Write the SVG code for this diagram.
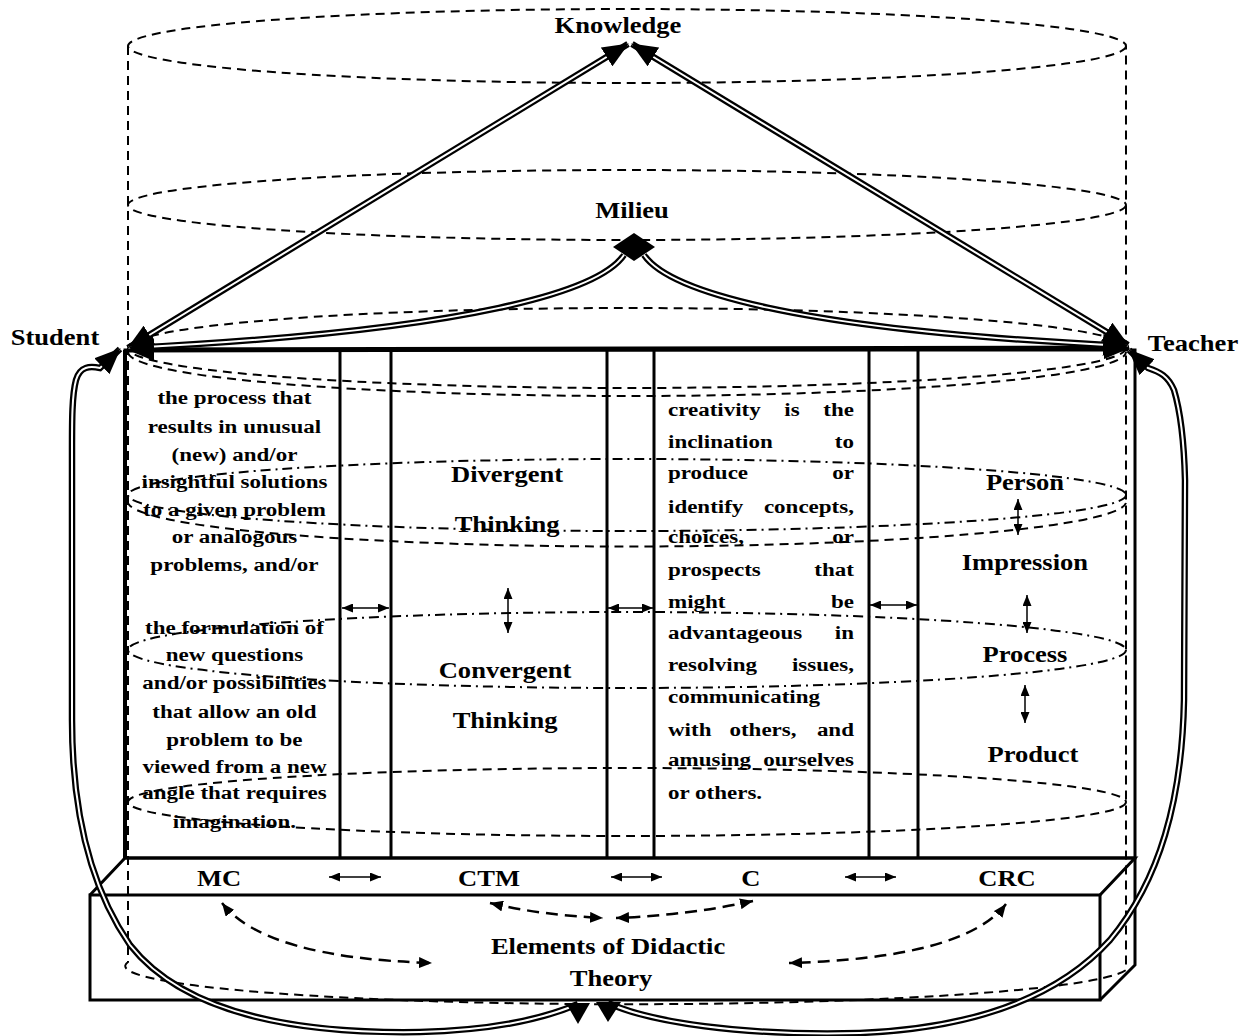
<svg xmlns="http://www.w3.org/2000/svg" width="1254" height="1036" viewBox="0 0 1254 1036">
<style>
.dash{fill:none;stroke:#000;stroke-width:2;stroke-dasharray:9 6}
.dd{fill:none;stroke:#000;stroke-width:2;stroke-dasharray:10 5 2 5}
.solid{fill:none;stroke:#000;stroke-width:3}
.tb{fill:none;stroke:#000;stroke-width:6.5}
.tw{fill:none;stroke:#fff;stroke-width:2}
.thin{fill:none;stroke:#000;stroke-width:1.5}
.darr{fill:none;stroke:#000;stroke-width:2.5;stroke-dasharray:12 7}
text{font-family:"Liberation Serif","Times New Roman",serif;font-weight:bold;fill:#000}
.lbl{font-size:22.5px;text-anchor:middle}
.body{font-size:19.5px}
.mid{text-anchor:middle}
.st{text-anchor:start}
.en{text-anchor:end}
</style>
<defs>
<marker id="big" viewBox="0 0 26 22" refX="25" refY="11" markerWidth="26" markerHeight="22" markerUnits="userSpaceOnUse" orient="auto-start-reverse"><path d="M0,0 L26,11 L0,22 z" fill="#000"/></marker>
<marker id="sm" viewBox="0 0 11 9" refX="11" refY="4.5" markerWidth="11" markerHeight="9" markerUnits="userSpaceOnUse" orient="auto-start-reverse"><path d="M0,0 L11,4.5 L0,9 z" fill="#000"/></marker>
<marker id="dm" viewBox="0 0 13 11" refX="13" refY="5.5" markerWidth="13" markerHeight="11" markerUnits="userSpaceOnUse" orient="auto-start-reverse"><path d="M0,0 L13,5.5 L0,11 z" fill="#000"/></marker>
</defs>

<g id="cylinder">
<ellipse class="dash" cx="627" cy="46" rx="499" ry="37"/>
<ellipse class="dash" cx="627" cy="205" rx="499" ry="35"/>
<ellipse class="dash" cx="627" cy="348" rx="499" ry="40"/>
<path class="dash" d="M128,352 A499,44 0 0 0 1126,352"/>
<ellipse class="dd" cx="627" cy="495" rx="499" ry="36"/>
<path class="dash" d="M128,500 A499,45 0 0 0 1126,503"/>
<ellipse class="dd" cx="627" cy="650" rx="499" ry="38"/>
<ellipse class="dash" cx="627" cy="802" rx="499" ry="34"/>
<path class="dash" d="M128,46 L128,962 A499,38 0 0 0 1126,970 L1126,46"/>
</g>

<g id="frame">
<rect class="solid" x="125" y="350" width="1010" height="508"/>
<line class="solid" x1="125" y1="350" x2="125" y2="858" style="stroke-width:4"/>
<line class="solid" x1="340" y1="350" x2="340" y2="858"/>
<line class="solid" x1="391" y1="350" x2="391" y2="858"/>
<line class="solid" x1="607" y1="350" x2="607" y2="858"/>
<line class="solid" x1="654" y1="350" x2="654" y2="858"/>
<line class="solid" x1="869" y1="350" x2="869" y2="858"/>
<line class="solid" x1="918" y1="350" x2="918" y2="858"/>
</g>

<g id="didactic-box">
<rect class="solid" x="90" y="895" width="1010" height="105"/>
<path class="solid" d="M90,895 L125,858 L1135,858 L1100,895"/>
<path class="solid" d="M1135,858 L1135,965 L1100,1000"/>
<text class="lbl" transform="scale(1.18 1)" x="515.3" y="954">Elements of Didactic</text>
<text class="lbl" transform="scale(1.18 1)" x="517.8" y="986">Theory</text>
</g>

<g id="MC"><text class="lbl" transform="scale(1.18 1)" x="185.6" y="886">MC</text></g>
<g id="CTM"><text class="lbl" transform="scale(1.18 1)" x="414.4" y="886">CTM</text></g>
<g id="C"><text class="lbl" transform="scale(1.18 1)" x="636.4" y="886">C</text></g>
<g id="CRC"><text class="lbl" transform="scale(1.18 1)" x="853.4" y="886">CRC</text></g>

<g id="Knowledge"><text class="lbl" transform="scale(1.18 1)" x="523.7" y="33">Knowledge</text></g>
<g id="Milieu">
<polygon points="613,247 634,233 655,247 634,261" fill="#000"/>
<text class="lbl" transform="scale(1.18 1)" x="535.6" y="218">Milieu</text>
</g>
<g id="Student"><text class="lbl" transform="scale(1.18 1)" x="46.6" y="345">Student</text></g>
<g id="Teacher"><text class="lbl" transform="scale(1.18 1)" x="1011" y="351">Teacher</text></g>

<g id="column-MC">
<text class="body mid" transform="scale(1.18 1)" x="198.7" y="404">the process that</text>
<text class="body mid" transform="scale(1.18 1)" x="198.7" y="433">results in unusual</text>
<text class="body mid" transform="scale(1.18 1)" x="198.7" y="461">(new) and/or</text>
<text class="body mid" transform="scale(1.18 1)" x="198.7" y="488">insightful solutions</text>
<text class="body mid" transform="scale(1.18 1)" x="198.7" y="516">to a given problem</text>
<text class="body mid" transform="scale(1.18 1)" x="198.7" y="543">or analogous</text>
<text class="body mid" transform="scale(1.18 1)" x="198.7" y="571">problems, and/or</text>
<text class="body mid" transform="scale(1.18 1)" x="198.7" y="634">the formulation of</text>
<text class="body mid" transform="scale(1.18 1)" x="198.7" y="661">new questions</text>
<text class="body mid" transform="scale(1.18 1)" x="198.7" y="689">and/or possibilities</text>
<text class="body mid" transform="scale(1.18 1)" x="198.7" y="718">that allow an old</text>
<text class="body mid" transform="scale(1.18 1)" x="198.7" y="746">problem to be</text>
<text class="body mid" transform="scale(1.18 1)" x="198.7" y="773">viewed from a new</text>
<text class="body mid" transform="scale(1.18 1)" x="198.7" y="799">angle that requires</text>
<text class="body mid" transform="scale(1.18 1)" x="198.7" y="828">imagination.</text>
</g>

<g id="column-CTM">
<text class="lbl" transform="scale(1.18 1)" x="429.7" y="482">Divergent</text>
<text class="lbl" transform="scale(1.18 1)" x="429.7" y="532">Thinking</text>
<text class="lbl" transform="scale(1.18 1)" x="428" y="678">Convergent</text>
<text class="lbl" transform="scale(1.18 1)" x="428" y="728">Thinking</text>
</g>

<g id="column-C" transform="scale(1.18 1)">
<text class="body" y="416"><tspan class="st" x="566.1">creativity</tspan><tspan class="mid" x="671.2">is</tspan><tspan class="en" x="723.7">the</tspan></text>
<text class="body" y="448"><tspan class="st" x="566.1">inclination</tspan><tspan class="en" x="723.7">to</tspan></text>
<text class="body" y="479"><tspan class="st" x="566.1">produce</tspan><tspan class="en" x="723.7">or</tspan></text>
<text class="body" y="513"><tspan class="st" x="566.1">identify</tspan><tspan class="en" x="723.7">concepts,</tspan></text>
<text class="body" y="543"><tspan class="st" x="566.1">choices,</tspan><tspan class="en" x="723.7">or</tspan></text>
<text class="body" y="576"><tspan class="st" x="566.1">prospects</tspan><tspan class="en" x="723.7">that</tspan></text>
<text class="body" y="608"><tspan class="st" x="566.1">might</tspan><tspan class="en" x="723.7">be</tspan></text>
<text class="body" y="639"><tspan class="st" x="566.1">advantageous</tspan><tspan class="en" x="723.7">in</tspan></text>
<text class="body" y="671"><tspan class="st" x="566.1">resolving</tspan><tspan class="en" x="723.7">issues,</tspan></text>
<text class="body" y="703"><tspan class="st" x="566.1">communicating</tspan></text>
<text class="body" y="736"><tspan class="st" x="566.1">with</tspan><tspan class="mid" x="646.6">others,</tspan><tspan class="en" x="723.7">and</tspan></text>
<text class="body" y="766"><tspan class="st" x="566.1">amusing</tspan><tspan class="en" x="723.7">ourselves</tspan></text>
<text class="body" y="799"><tspan class="st" x="566.1">or others.</tspan></text>
</g>

<g id="column-CRC">
<text class="lbl" transform="scale(1.18 1)" x="868.6" y="490">Person</text>
<text class="lbl" transform="scale(1.18 1)" x="868.6" y="570">Impression</text>
<text class="lbl" transform="scale(1.18 1)" x="868.6" y="662">Process</text>
<text class="lbl" transform="scale(1.18 1)" x="875.4" y="762">Product</text>
</g>

<g id="connectors">
<line class="thin" x1="342" y1="608" x2="389" y2="608" marker-start="url(#sm)" marker-end="url(#sm)"/>
<line class="thin" x1="608" y1="608" x2="653" y2="608" marker-start="url(#sm)" marker-end="url(#sm)"/>
<line class="thin" x1="870" y1="605" x2="917" y2="605" marker-start="url(#sm)" marker-end="url(#sm)"/>
<line class="thin" x1="508" y1="588" x2="508" y2="633" marker-start="url(#sm)" marker-end="url(#sm)"/>
<line class="thin" x1="1018" y1="499" x2="1018" y2="535" marker-start="url(#sm)" marker-end="url(#sm)"/>
<line class="thin" x1="1027" y1="595" x2="1027" y2="633" marker-start="url(#sm)" marker-end="url(#sm)"/>
<line class="thin" x1="1025" y1="685" x2="1025" y2="723" marker-start="url(#sm)" marker-end="url(#sm)"/>
<line class="thin" x1="329" y1="877" x2="381" y2="877" marker-start="url(#sm)" marker-end="url(#sm)"/>
<line class="thin" x1="611" y1="877" x2="662" y2="877" marker-start="url(#sm)" marker-end="url(#sm)"/>
<line class="thin" x1="845" y1="877" x2="896" y2="877" marker-start="url(#sm)" marker-end="url(#sm)"/>
<path class="darr" d="M222,903 Q265,958 432,963" marker-start="url(#dm)" marker-end="url(#dm)"/>
<path class="darr" d="M490,903 Q540,915 603,918" marker-start="url(#dm)" marker-end="url(#dm)"/>
<path class="darr" d="M753,901 Q690,915 616,918" marker-start="url(#dm)" marker-end="url(#dm)"/>
<path class="darr" d="M1006,904 Q965,958 789,963" marker-start="url(#dm)" marker-end="url(#dm)"/>
<line x1="129" y1="350" x2="1129" y2="348" stroke="#000" stroke-width="5" marker-start="url(#big)" marker-end="url(#big)"/>
<path class="tb" d="M128,348 L628,44"/>
<path class="tw" d="M128,348 L628,44" marker-start="url(#big)" marker-end="url(#big)"/>
<path class="tb" d="M632,44 L1128,345"/>
<path class="tw" d="M632,44 L1128,345" marker-start="url(#big)" marker-end="url(#big)"/>
<path class="tb" d="M624,255 C600,290 480,330 129,348"/>
<path class="tw" d="M624,255 C600,290 480,330 129,348" marker-end="url(#big)"/>
<path class="tb" d="M644,255 C668,290 788,330 1128,346"/>
<path class="tw" d="M644,255 C668,290 788,330 1128,346" marker-end="url(#big)"/>
<path class="tb" d="M120,349 L100,368 C90,366 80,366 76,380 C72,395 72,420 72,450 L72,720 C72,800 85,880 130,945 C185,1015 300,1034 420,1032 C500,1030 550,1016 578,1004"/>
<path class="tw" d="M120,349 L100,368 C90,366 80,366 76,380 C72,395 72,420 72,450 L72,720 C72,800 85,880 130,945 C185,1015 300,1034 420,1032 C500,1030 550,1016 578,1004" marker-start="url(#big)"/>
<polygon points="566,1003 590,1003 578,1024" fill="#000"/>
<path class="tb" d="M1129,350 L1148,368 C1160,372 1168,376 1174,390 C1180,410 1184,440 1185,480 L1184,700 C1182,800 1160,880 1110,940 C1060,995 980,1028 860,1033 C740,1036 650,1022 608,1003"/>
<path class="tw" d="M1129,350 L1148,368 C1160,372 1168,376 1174,390 C1180,410 1184,440 1185,480 L1184,700 C1182,800 1160,880 1110,940 C1060,995 980,1028 860,1033 C740,1036 650,1022 608,1003" marker-start="url(#big)"/>
<polygon points="596,1002 621,1002 608,1022" fill="#000"/>
</g>
</svg>
